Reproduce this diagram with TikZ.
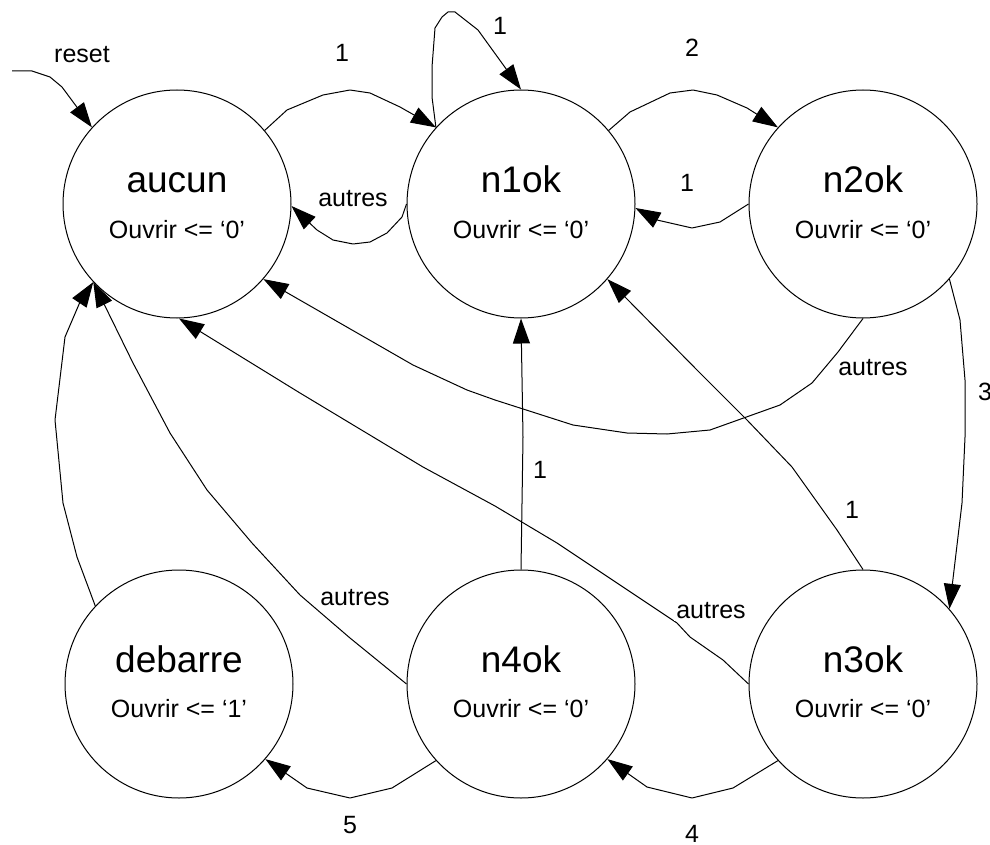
\documentclass[tikz,border=0pt]{standalone}
\usepackage{fontspec}
\setmainfont{Liberation Sans}
\usetikzlibrary{arrows.meta}
\begin{document}
\begin{tikzpicture}[x=0.5pt,y=-0.5pt,
  state/.style={circle,draw,line width=0.5pt,minimum size=114pt,inner sep=0pt},
  sname/.style={anchor=base,inner sep=0pt,font=\fontsize{18.5}{22}\selectfont},
  sout/.style={anchor=base,inner sep=0pt,font=\fontsize{12.5}{15}\selectfont},
  lbl/.style={inner sep=1pt,font=\fontsize{12.5}{15}\selectfont},
  trans/.style={line width=0.5pt,line join=round,-{Triangle[length=12.5pt,width=8.5pt]}}]
\useasboundingbox (0,0) rectangle (990,845);
% states
\node[state] (aucun)   at (177,204) {};
\node[state] (n1ok)    at (521,204) {};
\node[state] (n2ok)    at (863,204) {};
\node[state] (debarre) at (179,684) {};
\node[state] (n4ok)    at (521,684) {};
\node[state] (n3ok)    at (863,684) {};
% state texts
\node[sname] (taucun) at ([yshift=5.5pt]aucun.center) {aucun};
\node[sout]  (oaucun) at ([yshift=-17.5pt]aucun.center) {Ouvrir <= ‘0’};
\node[sname] (tn1ok) at ([yshift=5.5pt]n1ok.center) {n1ok};
\node[sout]  (on1ok) at ([yshift=-17.5pt]n1ok.center) {Ouvrir <= ‘0’};
\node[sname] (tn2ok) at ([yshift=5.5pt]n2ok.center) {n2ok};
\node[sout]  (on2ok) at ([yshift=-17.5pt]n2ok.center) {Ouvrir <= ‘0’};
\node[sname] (tdebarre) at ([yshift=6pt]debarre.center) {debarre};
\node[sout]  (odebarre) at ([yshift=-16.5pt]debarre.center) {Ouvrir <= ‘1’};
\node[sname] (tn4ok) at ([yshift=6pt]n4ok.center) {n4ok};
\node[sout]  (on4ok) at ([yshift=-16.5pt]n4ok.center) {Ouvrir <= ‘0’};
\node[sname] (tn3ok) at ([yshift=6pt]n3ok.center) {n3ok};
\node[sout]  (on3ok) at ([yshift=-16.5pt]n3ok.center) {Ouvrir <= ‘0’};
% reset
\coordinate (rst) at (12,71);
\draw[trans] (rst) -- (32,71) -- (50,77) -- (62,87) -- (aucun.138);
% aucun -> n1ok
\draw[trans] (aucun.40) -- (287,110) -- (323,95) -- (350,90) -- (370,93) -- (400,107) -- (n1ok.138);
% n1ok -> aucun
\draw[trans] (n1ok.180) -- (402,217) -- (387,233) -- (370,242) -- (353,244) -- (333,240) -- (317,230) -- (aucun.-1);
% n1ok self loop
\draw[trans] (n1ok.138) -- (432,97) -- (432,67) -- (435,28) -- (442,17) -- (448,12) -- (455,12) -- (478,30) -- (n1ok.90);
% n1ok -> n2ok
\draw[trans] (n1ok.40) -- (630,112) -- (670,93) -- (693,90) -- (717,95) -- (747,108) -- (n2ok.138);
% n2ok -> n1ok
\draw[trans] (n2ok.180) -- (720,222) -- (692,228) -- (657,220) -- (n1ok.-2);
% n2ok -> aucun
\draw[trans] (n2ok.270) -- (838,352) -- (812,383) -- (780,405) -- (710,430) -- (667,434) -- (627,433) -- (573,425) -- (495,400) -- (467,390) -- (413,365) -- (aucun.-41.5);
% n2ok -> n3ok
\draw[trans] (n2ok.-41) -- (960,320) -- (965,380) -- (965,437) -- (962,503) -- (n3ok.41.5);
% n3ok -> n1ok
\draw[trans] (n3ok.90) -- (837,530) -- (792,467) -- (747,420) -- (697,370) -- (n1ok.-41);
% n4ok -> n1ok
\draw[trans] (n4ok.90) -- (523,437) -- (n1ok.270);
% n3ok -> aucun
\draw[trans] (n3ok.180) -- (723,660) -- (690,637) -- (677,623) -- (557,543) -- (495,506) -- (423,467) -- (300,393) -- (aucun.-89);
% n4ok -> aucun
\draw[trans] (n4ok.180) -- (350,638) -- (300,595) -- (252,543) -- (207,490) -- (170,433) -- (133,363) -- (aucun.-137.5);
% debarre -> aucun
\draw[trans] (debarre.137) -- (77,557) -- (63,503) -- (55,420) -- (65,337) -- (80,302) -- (aucun.-137);
% n4ok -> debarre
\draw[trans] (n4ok.-138.5) -- (392,788) -- (350,798) -- (307,788) -- (debarre.-41);
% n3ok -> n4ok
\draw[trans] (n3ok.-138.5) -- (733,788) -- (692,798) -- (647,787) -- (n4ok.-41);
% labels
\node[lbl] (lreset) at (82,55) {reset};
\node[lbl] (l1a) at (342,53) {1};
\node[lbl] (lautresa) at (353,199) {autres};
\node[lbl] (l1loop) at (500,26) {1};
\node[lbl] (l2) at (692,48) {2};
\node[lbl] (l1b) at (687,183) {1};
\node[lbl] (lautresb) at (873,368) {autres};
\node[lbl] (l3) at (985,392) {3};
\node[lbl] (l1c) at (852,510) {1};
\node[lbl] (l1d) at (540,470) {1};
\node[lbl,fill=white] (lautresc) at (711,611) {autres};
\node[lbl] (lautresd) at (355,598) {autres};
\node[lbl] (l5) at (350,825) {5};
\node[lbl] (l4) at (692,834) {4};
\end{tikzpicture}
\end{document}
